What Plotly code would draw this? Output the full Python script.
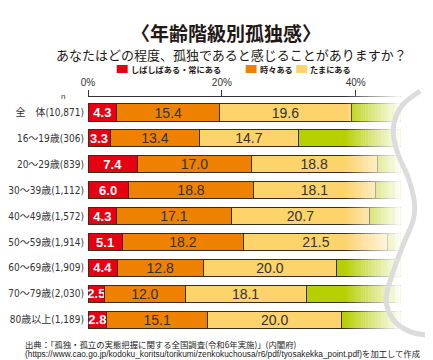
import plotly.graph_objects as go

# ---------------- data ----------------
categories = ["全　体(10,871)", "16～19歳(306)", "20～29歳(839)", "30～39歳(1,112)",
              "40～49歳(1,572)", "50～59歳(1,914)", "60～69歳(1,909)",
              "70～79歳(2,030)", "80歳以上(1,189)"]
often = [4.3, 3.3, 7.4, 6.0, 4.3, 5.1, 4.4, 2.5, 2.8]
sometimes = [15.4, 13.4, 17.0, 18.8, 17.1, 18.2, 12.8, 12.0, 15.1]
occasionally = [19.6, 14.7, 18.8, 18.1, 20.7, 21.5, 20.0, 18.1, 20.0]
hardly = [40.0, 45.0, 38.0, 38.5, 39.5, 37.5, 42.0, 45.0, 43.0]  # faded out in the original
series_names = ["しばしばある・常にある", "時々ある", "たまにある", "ほとんどない"]
x_ticks = [0, 20, 40]
x_ticklabels = ["0%", "20%", "40%"]

# ---------------- styling ----------------
W, H = 433, 360
PL, PT, PB = 77, 89, 326          # plot area in pixels
PX_PER_PCT = 6.75
RED, ORANGE, YELLOW, GREEN = "#e60012", "#ee8100", "#fdd36b", "#b5cf00"
EDGE = "#3a2c1a"
NARROW = "Liberation Sans Narrow, DejaVu Sans Condensed, Noto Sans CJK JP, sans-serif"
NUM = "Liberation Sans, Arial, sans-serif"
JP = "Noto Sans CJK JP, sans-serif"
TXT = "#231815"


def px(x):
    return (x - PL) / (W - PL)


def py(y):
    return (PB - y) / (PB - PT)


rows = list(range(len(categories)))
fig = go.Figure()

specs = [(often, RED, "#ffffff", True, 13), (sometimes, ORANGE, "#333333", False, 14),
         (occasionally, YELLOW, "#333333", False, 14), (hardly, GREEN, "#333333", None, 14)]
for name, (vals, col, tcol, bold, fs) in zip(series_names, specs):
    if bold is None:
        tt = None
    elif bold:
        tt = "<b>%{x:.1f}</b>"
    else:
        tt = "%{x:.1f}"
    fig.add_trace(go.Bar(
        y=rows, x=vals, name=name, orientation="h", width=0.66,
        marker=dict(color=col, line=dict(color=EDGE, width=1)),
        texttemplate=tt, textposition="inside" if tt else "none",
        insidetextanchor="middle", textangle=0, constraintext="none",
        textfont=dict(family=NUM, size=fs, color=tcol),
        showlegend=False, hoverinfo="skip" if tt is None else None,
    ))

row_span = 25.9
r_top = -(104.5 - PT) / row_span
r_bot = (len(categories) - 1) + (PB - 311.7) / row_span

fig.update_layout(
    width=W, height=H, barmode="stack",
    margin=dict(l=PL, r=0, t=PT, b=H - PB, pad=0),
    paper_bgcolor="white", plot_bgcolor="white",
    xaxis=dict(side="top", range=[0, (W - PL) / PX_PER_PCT], tickvals=x_ticks,
               ticktext=x_ticklabels, ticks="outside", ticklen=6, tickcolor="#333",
               showline=True, linecolor="#333", linewidth=1, showgrid=False,
               zeroline=False, tickfont=dict(family=NUM, size=10, color="#333")),
    yaxis=dict(range=[r_bot, r_top], tickvals=rows, ticktext=categories,
               ticks="", showgrid=False, zeroline=False, showline=False,
               ticklabelstandoff=3,
               tickfont=dict(family=NARROW, size=10, color="#333")),
    font=dict(family=JP),
)

ann = []
ann.append(dict(x=px(216), y=py(24), text="<b>〈年齢階級別孤独感〉</b>",
                font=dict(family=JP, size=19, color=TXT)))
ann.append(dict(x=px(222), y=py(47), text="あなたはどの程度、孤独であると感じることがありますか？",
                font=dict(family=JP, size=13, color=TXT)))
ann.append(dict(x=px(52), y=py(88), text="n", font=dict(family=NUM, size=8, color="#333")))

# manual legend
legend_items = [(106, RED, series_names[0]), (236, ORANGE, series_names[1]),
                (287, YELLOW, series_names[2])]
shapes = []
for lx, col, name in legend_items:
    shapes.append(dict(type="rect", xref="paper", yref="paper",
                       x0=px(lx), x1=px(lx + 11), y0=py(65), y1=py(57),
                       fillcolor=col, line=dict(width=0)))
    ann.append(dict(x=px(lx + 12), y=py(61), xanchor="left", text="<b>" + name + "</b>",
                    font=dict(family=JP, size=8.2, color=TXT)))

# source
ann.append(dict(x=px(11), y=py(336), xanchor="left",
                text="出典：「孤独・孤立の実態把握に関する全国調査(令和6年実施)」(内閣府)",
                font=dict(family=JP, size=8.4, color="#222")))
ann.append(dict(x=px(11), y=py(346), xanchor="left",
                text="(https://www.cao.go.jp/kodoku_koritsu/torikumi/zenkokuchousa/r6/pdf/tyosakekka_point.pdf)を加工して作成",
                font=dict(family="Liberation Sans, Noto Sans CJK JP, sans-serif", size=8.3, color="#222")))
for a in ann:
    a.update(xref="paper", yref="paper", showarrow=False)
    a.setdefault("xanchor", "center")
    a.setdefault("yanchor", "middle")

# white fade on the right
f0, f1, N = 336, 392, 24
step = (f1 - f0) / N
for k in range(N):
    shapes.append(dict(type="rect", xref="paper", yref="paper", layer="above",
                       x0=px(f0 + k * step), x1=px(f0 + (k + 1) * step + 0.3),
                       y0=py(324), y1=py(86.5), fillcolor="white",
                       opacity=(k + 1) / (N + 1), line=dict(width=0)))
shapes.append(dict(type="rect", xref="paper", yref="paper", layer="above",
                   x0=px(f1), x1=px(W), y0=py(324), y1=py(86.5),
                   fillcolor="white", line=dict(width=0)))

# decorative grey curve
pts = [(412, 83), (396, 95), (387, 110), (385, 127), (390, 147), (400, 170),
       (406, 193), (405, 212), (396, 234), (386, 260), (378, 287), (380, 303),
       (390, 317), (406, 325), (422, 327)]
P = [(px(x), py(y)) for x, y in pts]
path = "M {:.5f},{:.5f}".format(*P[0])
for i in range(len(P) - 1):
    p0 = P[i - 1] if i > 0 else P[i]
    p1, p2 = P[i], P[i + 1]
    p3 = P[i + 2] if i + 2 < len(P) else P[i + 1]
    c1 = (p1[0] + (p2[0] - p0[0]) / 6, p1[1] + (p2[1] - p0[1]) / 6)
    c2 = (p2[0] - (p3[0] - p1[0]) / 6, p2[1] - (p3[1] - p1[1]) / 6)
    path += " C {:.5f},{:.5f} {:.5f},{:.5f} {:.5f},{:.5f}".format(*c1, *c2, *p2)
shapes.append(dict(type="path", path=path, xref="paper", yref="paper", layer="above",
                   line=dict(color="#dcdcdc", width=5)))

fig.update_layout(annotations=ann, shapes=shapes)
fig.write_html("out.html")
